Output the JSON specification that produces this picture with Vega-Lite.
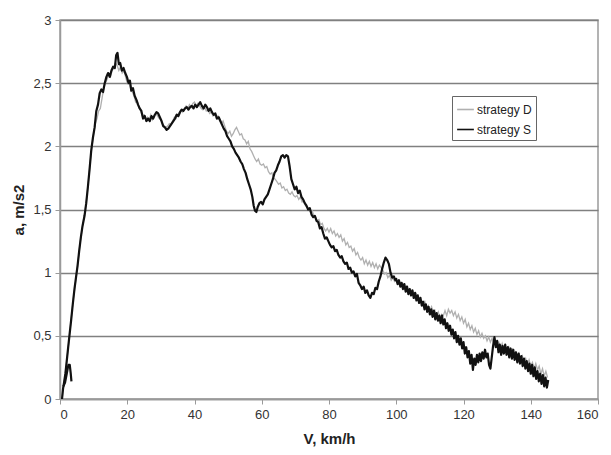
{
  "$schema": "https://vega.github.io/schema/vega-lite/v6.json",
  "width": 538,
  "height": 379,
  "autosize": {"type": "none"},
  "padding": {"left": 60, "top": 20, "right": 13, "bottom": 56},
  "background": "white",
  "config": {
    "font": "Liberation Sans",
    "view": {"stroke": "#9a9a9a", "strokeWidth": 1.5},
    "axis": {"labelFont": "Liberation Sans", "labelFontSize": 13, "labelColor": "#333", "titleFont": "Liberation Sans", "titleFontSize": 15, "titleFontWeight": "bold", "titleColor": "#222", "domainColor": "#9a9a9a", "tickColor": "#9a9a9a", "domainWidth": 1.5}
  },
  "datasets": {
    "S": [
      {"v":0.6,"a":0.0},{"v":0.9,"a":0.08},{"v":1.2,"a":0.13},{"v":1.6,"a":0.2},{"v":2.0,"a":0.3},{"v":2.4,"a":0.4},{"v":2.8,"a":0.5},{"v":3.3,"a":0.62},{"v":3.8,"a":0.75},{"v":4.3,"a":0.87},{"v":4.8,"a":0.97},{"v":5.2,"a":1.05},{"v":5.7,"a":1.17},{"v":6.2,"a":1.28},{"v":6.7,"a":1.37},{"v":7.3,"a":1.45},{"v":7.8,"a":1.55},{"v":8.3,"a":1.68},{"v":8.8,"a":1.82},{"v":9.3,"a":1.97},{"v":9.8,"a":2.07},{"v":10.3,"a":2.15},{"v":10.8,"a":2.28},{"v":11.3,"a":2.33},{"v":11.8,"a":2.42},{"v":12.3,"a":2.45},{"v":12.8,"a":2.43},{"v":13.3,"a":2.5},{"v":13.8,"a":2.55},{"v":14.3,"a":2.58},{"v":14.8,"a":2.55},{"v":15.3,"a":2.6},{"v":15.8,"a":2.63},{"v":16.3,"a":2.62},{"v":16.7,"a":2.72},{"v":17.1,"a":2.74},{"v":17.5,"a":2.65},{"v":17.9,"a":2.66},{"v":18.4,"a":2.6},{"v":18.9,"a":2.62},{"v":19.4,"a":2.58},{"v":19.9,"a":2.55},{"v":20.4,"a":2.5},{"v":20.8,"a":2.52},{"v":21.2,"a":2.44},{"v":21.7,"a":2.46},{"v":22.2,"a":2.4},{"v":22.7,"a":2.37},{"v":23.2,"a":2.33},{"v":23.7,"a":2.3},{"v":24.2,"a":2.28},{"v":24.7,"a":2.22},{"v":25.2,"a":2.24},{"v":25.7,"a":2.2},{"v":26.2,"a":2.22},{"v":26.7,"a":2.2},{"v":27.2,"a":2.24},{"v":27.7,"a":2.22},{"v":28.2,"a":2.25},{"v":28.7,"a":2.27},{"v":29.2,"a":2.26},{"v":29.7,"a":2.23},{"v":30.2,"a":2.2},{"v":30.7,"a":2.16},{"v":31.2,"a":2.15},{"v":31.7,"a":2.13},{"v":32.2,"a":2.14},{"v":32.7,"a":2.16},{"v":33.2,"a":2.18},{"v":33.7,"a":2.2},{"v":34.2,"a":2.22},{"v":34.7,"a":2.25},{"v":35.2,"a":2.24},{"v":35.7,"a":2.27},{"v":36.2,"a":2.29},{"v":36.7,"a":2.28},{"v":37.2,"a":2.3},{"v":37.7,"a":2.31},{"v":38.2,"a":2.29},{"v":38.7,"a":2.31},{"v":39.2,"a":2.32},{"v":39.7,"a":2.3},{"v":40.2,"a":2.33},{"v":40.7,"a":2.31},{"v":41.2,"a":2.33},{"v":41.7,"a":2.35},{"v":42.2,"a":2.32},{"v":42.7,"a":2.3},{"v":43.2,"a":2.33},{"v":43.7,"a":2.31},{"v":44.2,"a":2.28},{"v":44.7,"a":2.3},{"v":45.2,"a":2.27},{"v":45.7,"a":2.25},{"v":46.2,"a":2.26},{"v":46.7,"a":2.22},{"v":47.2,"a":2.23},{"v":47.7,"a":2.2},{"v":48.2,"a":2.17},{"v":48.7,"a":2.14},{"v":49.2,"a":2.12},{"v":49.7,"a":2.08},{"v":50.2,"a":2.06},{"v":50.7,"a":2.04},{"v":51.2,"a":2.0},{"v":51.7,"a":1.98},{"v":52.2,"a":1.95},{"v":52.7,"a":1.93},{"v":53.2,"a":1.91},{"v":53.7,"a":1.88},{"v":54.2,"a":1.86},{"v":54.7,"a":1.82},{"v":55.2,"a":1.79},{"v":55.7,"a":1.74},{"v":56.2,"a":1.7},{"v":56.7,"a":1.66},{"v":57.2,"a":1.6},{"v":57.6,"a":1.53},{"v":58.0,"a":1.49},{"v":58.4,"a":1.48},{"v":58.8,"a":1.52},{"v":59.3,"a":1.55},{"v":59.8,"a":1.56},{"v":60.3,"a":1.54},{"v":60.8,"a":1.58},{"v":61.3,"a":1.6},{"v":61.8,"a":1.62},{"v":62.3,"a":1.66},{"v":62.8,"a":1.7},{"v":63.3,"a":1.74},{"v":63.8,"a":1.79},{"v":64.3,"a":1.81},{"v":64.8,"a":1.85},{"v":65.3,"a":1.88},{"v":65.8,"a":1.92},{"v":66.3,"a":1.93},{"v":66.8,"a":1.91},{"v":67.3,"a":1.93},{"v":67.8,"a":1.92},{"v":68.3,"a":1.84},{"v":68.8,"a":1.74},{"v":69.3,"a":1.7},{"v":69.8,"a":1.66},{"v":70.3,"a":1.68},{"v":70.8,"a":1.63},{"v":71.3,"a":1.65},{"v":71.8,"a":1.6},{"v":72.3,"a":1.58},{"v":72.8,"a":1.55},{"v":73.3,"a":1.53},{"v":73.8,"a":1.5},{"v":74.3,"a":1.51},{"v":74.8,"a":1.46},{"v":75.3,"a":1.44},{"v":75.8,"a":1.45},{"v":76.3,"a":1.41},{"v":76.8,"a":1.4},{"v":77.3,"a":1.35},{"v":77.8,"a":1.36},{"v":78.3,"a":1.31},{"v":78.8,"a":1.27},{"v":79.3,"a":1.28},{"v":79.8,"a":1.25},{"v":80.3,"a":1.22},{"v":80.8,"a":1.2},{"v":81.3,"a":1.21},{"v":81.8,"a":1.17},{"v":82.3,"a":1.18},{"v":82.8,"a":1.14},{"v":83.3,"a":1.12},{"v":83.8,"a":1.13},{"v":84.3,"a":1.09},{"v":84.8,"a":1.07},{"v":85.3,"a":1.08},{"v":85.8,"a":1.03},{"v":86.3,"a":1.04},{"v":86.8,"a":1.0},{"v":87.3,"a":1.01},{"v":87.8,"a":0.97},{"v":88.3,"a":0.99},{"v":88.8,"a":0.92},{"v":89.3,"a":0.9},{"v":89.8,"a":0.87},{"v":90.3,"a":0.89},{"v":90.8,"a":0.84},{"v":91.3,"a":0.86},{"v":91.8,"a":0.82},{"v":92.3,"a":0.8},{"v":92.8,"a":0.84},{"v":93.3,"a":0.83},{"v":93.8,"a":0.88},{"v":94.3,"a":0.87},{"v":94.8,"a":0.93},{"v":95.3,"a":0.97},{"v":95.8,"a":1.03},{"v":96.3,"a":1.08},{"v":96.8,"a":1.12},{"v":97.3,"a":1.1},{"v":97.8,"a":1.07},{"v":98.3,"a":1.0},{"v":98.8,"a":0.96},{"v":99.3,"a":0.97},{"v":99.7,"a":0.94},
      {"v":100.0,"a":0.95},{"v":100.4,"a":0.91},{"v":100.8,"a":0.94},{"v":101.2,"a":0.89},{"v":101.6,"a":0.92},{"v":102.0,"a":0.87},{"v":102.4,"a":0.91},{"v":102.8,"a":0.85},{"v":103.2,"a":0.89},{"v":103.6,"a":0.83},{"v":104.0,"a":0.87},{"v":104.4,"a":0.82},{"v":104.8,"a":0.86},{"v":105.2,"a":0.8},{"v":105.6,"a":0.84},{"v":106.0,"a":0.78},{"v":106.4,"a":0.82},{"v":106.8,"a":0.76},{"v":107.2,"a":0.8},{"v":107.6,"a":0.74},{"v":108.0,"a":0.77},{"v":108.4,"a":0.71},{"v":108.8,"a":0.75},{"v":109.2,"a":0.69},{"v":109.6,"a":0.73},{"v":110.0,"a":0.67},{"v":110.4,"a":0.71},{"v":110.8,"a":0.65},{"v":111.2,"a":0.7},{"v":111.6,"a":0.63},{"v":112.0,"a":0.68},{"v":112.4,"a":0.62},{"v":112.8,"a":0.66},{"v":113.2,"a":0.6},{"v":113.6,"a":0.66},{"v":114.0,"a":0.59},{"v":114.4,"a":0.63},{"v":114.8,"a":0.56},{"v":115.2,"a":0.6},{"v":115.6,"a":0.54},{"v":116.0,"a":0.58},{"v":116.4,"a":0.51},{"v":116.8,"a":0.55},{"v":117.2,"a":0.48},{"v":117.6,"a":0.53},{"v":118.0,"a":0.45},{"v":118.4,"a":0.5},{"v":118.8,"a":0.43},{"v":119.2,"a":0.48},{"v":119.6,"a":0.4},{"v":120.0,"a":0.45},{"v":120.4,"a":0.36},{"v":120.8,"a":0.41},{"v":121.2,"a":0.33},{"v":121.6,"a":0.38},{"v":122.0,"a":0.28},{"v":122.4,"a":0.35},{"v":122.8,"a":0.23},{"v":123.2,"a":0.32},{"v":123.6,"a":0.27},{"v":124.0,"a":0.35},{"v":124.4,"a":0.29},{"v":124.8,"a":0.36},{"v":125.2,"a":0.3},{"v":125.6,"a":0.37},{"v":126.0,"a":0.32},{"v":126.4,"a":0.39},{"v":126.8,"a":0.33},{"v":127.2,"a":0.36},{"v":127.6,"a":0.27},{"v":128.0,"a":0.24},{"v":128.4,"a":0.33},{"v":128.8,"a":0.42},{"v":129.2,"a":0.49},{"v":129.6,"a":0.41},{"v":130.0,"a":0.46},{"v":130.4,"a":0.37},{"v":130.8,"a":0.43},{"v":131.2,"a":0.35},{"v":131.6,"a":0.42},{"v":132.0,"a":0.36},{"v":132.4,"a":0.43},{"v":132.8,"a":0.35},{"v":133.2,"a":0.41},{"v":133.6,"a":0.33},{"v":134.0,"a":0.4},{"v":134.4,"a":0.32},{"v":134.8,"a":0.39},{"v":135.2,"a":0.31},{"v":135.6,"a":0.37},{"v":136.0,"a":0.29},{"v":136.4,"a":0.36},{"v":136.8,"a":0.28},{"v":137.2,"a":0.34},{"v":137.6,"a":0.26},{"v":138.0,"a":0.32},{"v":138.4,"a":0.24},{"v":138.8,"a":0.3},{"v":139.2,"a":0.22},{"v":139.6,"a":0.28},{"v":140.0,"a":0.2},{"v":140.4,"a":0.27},{"v":140.8,"a":0.18},{"v":141.2,"a":0.25},{"v":141.6,"a":0.16},{"v":142.0,"a":0.22},{"v":142.4,"a":0.14},{"v":142.8,"a":0.2},{"v":143.2,"a":0.12},{"v":143.6,"a":0.19},{"v":144.0,"a":0.1},{"v":144.4,"a":0.17},{"v":144.8,"a":0.09},{"v":145.2,"a":0.15},
      {"v":1.0,"a":0.1,"p":1},{"v":1.5,"a":0.13,"p":1},{"v":2.0,"a":0.2,"p":1},{"v":2.5,"a":0.27,"p":1},{"v":2.9,"a":0.27,"p":1},{"v":3.2,"a":0.2,"p":1},{"v":3.4,"a":0.14,"p":1}
    ],
    "D": [
      {"v":0.6,"a":0},{"v":1.0,"a":0.1},{"v":1.5,"a":0.18},{"v":2.0,"a":0.3},{"v":2.5,"a":0.42},{"v":3.0,"a":0.55},{"v":3.5,"a":0.68},{"v":4.0,"a":0.8},{"v":4.5,"a":0.9},{"v":5.0,"a":1.0},{"v":5.5,"a":1.12},{"v":6.0,"a":1.24},{"v":6.5,"a":1.33},{"v":7.0,"a":1.42},{"v":7.5,"a":1.5},{"v":8.0,"a":1.6},{"v":8.5,"a":1.74},{"v":9.0,"a":1.88},{"v":9.5,"a":2.0},{"v":10.0,"a":2.1},{"v":10.5,"a":2.18},{"v":11.0,"a":2.22},{"v":11.5,"a":2.28},{"v":12.0,"a":2.3},{"v":12.5,"a":2.38},{"v":13.0,"a":2.46},{"v":13.5,"a":2.5},{"v":14.0,"a":2.53},{"v":14.5,"a":2.57},{"v":15.0,"a":2.55},{"v":15.5,"a":2.6},{"v":16.0,"a":2.62},{"v":16.5,"a":2.66},{"v":17.0,"a":2.64},{"v":17.5,"a":2.6},{"v":18.0,"a":2.63},{"v":18.5,"a":2.58},{"v":19.0,"a":2.6},{"v":19.5,"a":2.55},{"v":20.0,"a":2.5},{"v":20.5,"a":2.52},{"v":21.0,"a":2.46},{"v":21.5,"a":2.43},{"v":22.0,"a":2.4},{"v":22.5,"a":2.35},{"v":23.0,"a":2.36},{"v":23.5,"a":2.31},{"v":24.0,"a":2.28},{"v":24.5,"a":2.24},{"v":25.0,"a":2.25},{"v":25.5,"a":2.21},{"v":26.0,"a":2.23},{"v":26.5,"a":2.21},{"v":27.0,"a":2.25},{"v":27.5,"a":2.21},{"v":28.0,"a":2.24},{"v":28.5,"a":2.26},{"v":29.0,"a":2.24},{"v":29.5,"a":2.22},{"v":30.0,"a":2.21},{"v":30.5,"a":2.18},{"v":31.0,"a":2.16},{"v":31.5,"a":2.15},{"v":32.0,"a":2.16},{"v":32.5,"a":2.18},{"v":33.0,"a":2.17},{"v":33.5,"a":2.2},{"v":34.0,"a":2.23},{"v":34.5,"a":2.22},{"v":35.0,"a":2.25},{"v":35.5,"a":2.27},{"v":36.0,"a":2.29},{"v":36.5,"a":2.27},{"v":37.0,"a":2.3},{"v":37.5,"a":2.32},{"v":38.0,"a":2.3},{"v":38.5,"a":2.33},{"v":39.0,"a":2.31},{"v":39.5,"a":2.34},{"v":40.0,"a":2.35},{"v":40.5,"a":2.32},{"v":41.0,"a":2.34},{"v":41.5,"a":2.32},{"v":42.0,"a":2.3},{"v":42.5,"a":2.29},{"v":43.0,"a":2.31},{"v":43.5,"a":2.28},{"v":44.0,"a":2.29},{"v":44.5,"a":2.26},{"v":45.0,"a":2.27},{"v":45.5,"a":2.24},{"v":46.0,"a":2.25},{"v":46.5,"a":2.22},{"v":47.0,"a":2.24},{"v":47.5,"a":2.2},{"v":48.0,"a":2.18},{"v":48.5,"a":2.2},{"v":49.0,"a":2.16},{"v":49.5,"a":2.12},{"v":50.0,"a":2.1},{"v":50.5,"a":2.12},{"v":51.0,"a":2.08},{"v":51.5,"a":2.1},{"v":52.0,"a":2.13},{"v":52.5,"a":2.15},{"v":53.0,"a":2.12},{"v":53.5,"a":2.09},{"v":54.0,"a":2.1},{"v":54.5,"a":2.06},{"v":55.0,"a":2.05},{"v":55.5,"a":2.02},{"v":56.0,"a":2.04},{"v":56.5,"a":1.98},{"v":57.0,"a":1.96},{"v":57.5,"a":1.93},{"v":58.0,"a":1.9},{"v":58.5,"a":1.88},{"v":59.0,"a":1.9},{"v":59.5,"a":1.86},{"v":60.0,"a":1.85},{"v":60.5,"a":1.86},{"v":61.0,"a":1.83},{"v":61.5,"a":1.84},{"v":62.0,"a":1.8},{"v":62.5,"a":1.78},{"v":63.0,"a":1.79},{"v":63.5,"a":1.75},{"v":64.0,"a":1.74},{"v":64.5,"a":1.72},{"v":65.0,"a":1.7},{"v":65.5,"a":1.71},{"v":66.0,"a":1.67},{"v":66.5,"a":1.68},{"v":67.0,"a":1.65},{"v":67.5,"a":1.66},{"v":68.0,"a":1.63},{"v":68.5,"a":1.62},{"v":69.0,"a":1.64},{"v":69.5,"a":1.61},{"v":70.0,"a":1.6},{"v":70.5,"a":1.61},{"v":71.0,"a":1.58},{"v":71.5,"a":1.6},{"v":72.0,"a":1.56},{"v":72.5,"a":1.57},{"v":73.0,"a":1.53},{"v":73.5,"a":1.52},{"v":74.0,"a":1.5},{"v":74.5,"a":1.48},{"v":75.0,"a":1.49},{"v":75.5,"a":1.45},{"v":76.0,"a":1.44},{"v":76.5,"a":1.41},{"v":77.0,"a":1.42},{"v":77.5,"a":1.38},{"v":78.0,"a":1.39},{"v":78.5,"a":1.35},{"v":79.0,"a":1.33},{"v":79.5,"a":1.35},{"v":80.0,"a":1.32},{"v":80.5,"a":1.35},{"v":81.0,"a":1.31},{"v":81.5,"a":1.33},{"v":82.0,"a":1.29},{"v":82.5,"a":1.31},{"v":83.0,"a":1.28},{"v":83.5,"a":1.3},{"v":84.0,"a":1.25},{"v":84.5,"a":1.27},{"v":85.0,"a":1.22},{"v":85.5,"a":1.24},{"v":86.0,"a":1.2},{"v":86.5,"a":1.21},{"v":87.0,"a":1.17},{"v":87.5,"a":1.19},{"v":88.0,"a":1.14},{"v":88.5,"a":1.16},{"v":89.0,"a":1.12},{"v":89.5,"a":1.1},{"v":90.0,"a":1.12},{"v":90.5,"a":1.07},{"v":91.0,"a":1.1},{"v":91.5,"a":1.06},{"v":92.0,"a":1.09},{"v":92.5,"a":1.05},{"v":93.0,"a":1.08},{"v":93.5,"a":1.04},{"v":94.0,"a":1.07},{"v":94.5,"a":1.03},{"v":95.0,"a":1.06},{"v":95.5,"a":1.04},{"v":96.0,"a":1.02},{"v":96.5,"a":0.99},{"v":97.0,"a":1.0},{"v":97.5,"a":0.96},{"v":98.0,"a":0.98},{"v":98.5,"a":0.94},{"v":99.0,"a":0.96},{"v":99.5,"a":0.93},{"v":100.0,"a":0.95},{"v":100.5,"a":0.91},{"v":101.0,"a":0.93},{"v":101.5,"a":0.89},{"v":102.0,"a":0.91},{"v":102.5,"a":0.87},{"v":103.0,"a":0.89},{"v":103.5,"a":0.85},{"v":104.0,"a":0.87},{"v":104.5,"a":0.83},{"v":105.0,"a":0.85},{"v":105.5,"a":0.8},{"v":106.0,"a":0.83},{"v":106.5,"a":0.78},{"v":107.0,"a":0.8},{"v":107.5,"a":0.76},{"v":108.0,"a":0.74},{"v":108.5,"a":0.77},{"v":109.0,"a":0.72},{"v":109.5,"a":0.74},{"v":110.0,"a":0.7},{"v":110.5,"a":0.73},{"v":111.0,"a":0.68},{"v":111.5,"a":0.7},{"v":112.0,"a":0.66},{"v":112.5,"a":0.69},{"v":113.0,"a":0.64},{"v":113.5,"a":0.67},{"v":114.0,"a":0.66},{"v":114.5,"a":0.7},{"v":115.0,"a":0.66},{"v":115.5,"a":0.71},{"v":116.0,"a":0.68},{"v":116.5,"a":0.7},{"v":117.0,"a":0.66},{"v":117.5,"a":0.69},{"v":118.0,"a":0.64},{"v":118.5,"a":0.67},{"v":119.0,"a":0.62},{"v":119.5,"a":0.65},{"v":120.0,"a":0.6},{"v":120.5,"a":0.63},{"v":121.0,"a":0.57},{"v":121.5,"a":0.6},{"v":122.0,"a":0.55},{"v":122.5,"a":0.58},{"v":123.0,"a":0.53},{"v":123.5,"a":0.56},{"v":124.0,"a":0.51},{"v":124.5,"a":0.54},{"v":125.0,"a":0.49},{"v":125.5,"a":0.52},{"v":126.0,"a":0.48},{"v":126.5,"a":0.5},{"v":127.0,"a":0.46},{"v":127.5,"a":0.49},{"v":128.0,"a":0.45},{"v":128.5,"a":0.48},{"v":129.0,"a":0.44},{"v":129.5,"a":0.47},{"v":130.0,"a":0.42},{"v":130.5,"a":0.45},{"v":131.0,"a":0.4},{"v":131.5,"a":0.44},{"v":132.0,"a":0.39},{"v":132.5,"a":0.42},{"v":133.0,"a":0.37},{"v":133.5,"a":0.41},{"v":134.0,"a":0.36},{"v":134.5,"a":0.39},{"v":135.0,"a":0.34},{"v":135.5,"a":0.37},{"v":136.0,"a":0.32},{"v":136.5,"a":0.36},{"v":137.0,"a":0.31},{"v":137.5,"a":0.34},{"v":138.0,"a":0.29},{"v":138.5,"a":0.32},{"v":139.0,"a":0.27},{"v":139.5,"a":0.31},{"v":140.0,"a":0.26},{"v":140.5,"a":0.29},{"v":141.0,"a":0.24},{"v":141.5,"a":0.28},{"v":142.0,"a":0.23},{"v":142.5,"a":0.26},{"v":143.0,"a":0.2},{"v":143.5,"a":0.24},{"v":144.0,"a":0.18},{"v":144.5,"a":0.22},{"v":145.0,"a":0.17}
    ]
  },
  "encoding": {
    "x": {"field": "v", "type": "quantitative", "scale": {"domain": [0, 160], "nice": false}, "axis": {"title": "V, km/h", "values": [0,20,40,60,80,100,120,140,160], "grid": false, "tickSize": 5, "labelPadding": 4, "titlePadding": 10}},
    "y": {"field": "a", "type": "quantitative", "scale": {"domain": [0, 3], "nice": false}, "axis": {"title": "a, m/s2", "values": [0,0.5,1,1.5,2,2.5,3], "format": ".1~f", "labelExpr": "replace(datum.label, '.', ',')", "grid": true, "gridColor": "#808080", "gridWidth": 1.5, "tickSize": 5, "labelPadding": 4, "titlePadding": 6}},
    "color": {"scale": {"domain": ["strategy D", "strategy S"], "range": ["#b0b0b0", "#111111"]}, "legend": {"title": null, "orient": "none", "legendX": 392, "legendY": 76, "symbolType": "stroke", "symbolSize": 280, "symbolStrokeWidth": 1.6, "labelFont": "Liberation Sans", "labelFontSize": 12, "labelColor": "#222", "strokeColor": "#666", "padding": 4, "rowPadding": 4, "labelOffset": 2, "fillColor": "white"}}
  },
  "layer": [
    {"data": {"name": "D"}, "mark": {"type": "line", "strokeWidth": 1.3, "interpolate": "linear"}, "encoding": {"color": {"datum": "strategy D"}}},
    {"data": {"name": "S"}, "mark": {"type": "line", "strokeWidth": 2.2, "strokeJoin": "round"}, "encoding": {"color": {"datum": "strategy S"}, "detail": {"field": "p"}}}
  ]
}
